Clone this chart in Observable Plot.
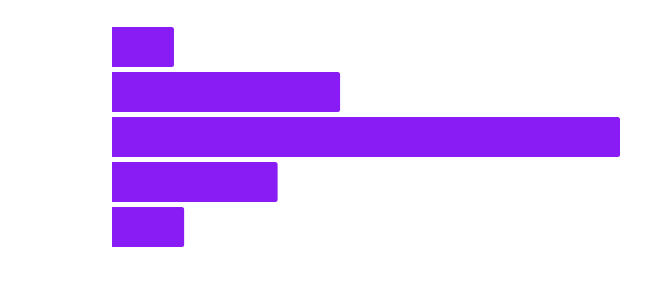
<!DOCTYPE html>
<html>
<head>
<meta charset="utf-8">
<script src="https://cdn.jsdelivr.net/npm/d3@7"></script>
<script src="https://cdn.jsdelivr.net/npm/@observablehq/plot@0.6"></script>
<style>
  html, body { margin: 0; padding: 0; background: #fff; }
</style>
</head>
<body>
<div id="chart"></div>
<script>
const categories = ["A", "B", "C", "D", "E"];
const values = [12.2, 44.9, 100, 32.6, 14.2];

const data = categories.map((c, i) => ({category: c, value: values[i]}));

const chart = Plot.plot({
  width: 667,
  height: 295,
  marginLeft: 112,
  marginRight: 47,
  marginTop: 22,
  marginBottom: 43,
  x: {axis: null, domain: [0, d3.max(values)]},
  y: {axis: null, domain: categories, padding: 0.11},
  marks: [
    Plot.barX(data, {x: "value", y: "category", fill: "#891bf4", rx2: 2.5})
  ]
});
document.getElementById("chart").appendChild(chart);
</script>
</body>
</html>
